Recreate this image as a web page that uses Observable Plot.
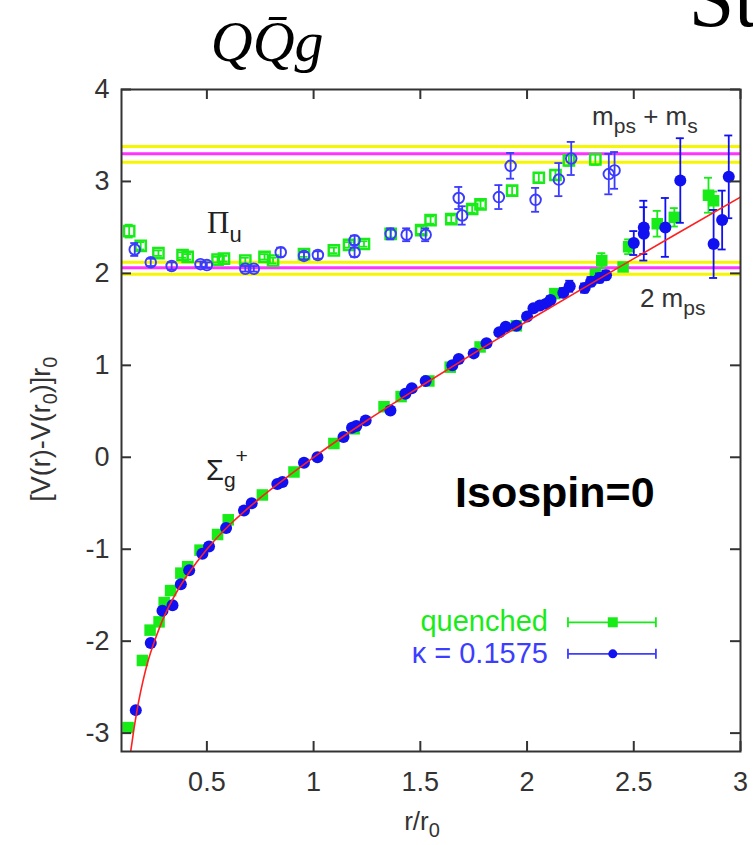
<!DOCTYPE html>
<html><head><meta charset="utf-8">
<script src="https://cdn.jsdelivr.net/npm/d3@7"></script>
<script src="https://cdn.jsdelivr.net/npm/@observablehq/plot@0.6"></script>
<style>
body{margin:0;background:#fff;}
#chart{width:753px;height:845px;overflow:hidden;}
</style></head><body><div id="chart"></div>
<script>
// ---------- axis ticks ----------
const xTicks = [0.5, 1, 1.5, 2, 2.5, 3];
const yTicks = [-3, -2, -1, 0, 1, 2, 3, 4];

// ---------- threshold lines (value, kind) ----------
const thresholdY    = [3.38, 3.30, 3.21, 2.12, 2.06, 1.99];
const thresholdKind = ["band", "mass", "band", "band", "mass", "band"];

// ---------- Sigma_g+ , quenched (green filled squares) ----------
const sigQ_r = [0.131,0.198,0.234,0.276,0.300,0.330,0.378,0.410,0.468,0.550,0.600,0.760,0.908,1.095,1.190,1.330,1.410,1.540,1.640,1.780,1.950,2.130,2.320,2.350,2.450,2.476,2.610,2.690,2.850,2.874];
const sigQ_v = [-2.94,-2.21,-1.88,-1.79,-1.58,-1.45,-1.26,-1.19,-1.01,-0.84,-0.68,-0.41,-0.16,0.15,0.31,0.55,0.66,0.83,0.98,1.20,1.43,1.78,1.99,2.14,2.07,2.29,2.54,2.61,2.85,2.79];
const sigQ_e = [0.02,0.02,0.02,0.02,0.02,0.02,0.02,0.02,0.02,0.02,0.02,0.02,0.02,0.02,0.02,0.02,0.02,0.02,0.02,0.02,0.03,0.03,0.05,0.08,0.04,0.08,0.14,0.10,0.19,0.10];

// ---------- Sigma_g+ , kappa = 0.1575 (blue filled circles) ----------
const sigK_r = [0.167,0.237,0.292,0.339,0.378,0.417,0.479,0.510,0.590,0.674,0.710,0.830,0.854,0.955,1.018,1.140,1.180,1.200,1.244,1.360,1.430,1.460,1.525,1.650,1.680,1.750,1.810,1.870,1.900,1.950,2.000,2.030,2.060,2.090,2.110,2.170,2.200,2.270,2.300,2.340,2.370,2.500,2.547,2.547,2.648,2.718,2.874,2.914,2.945];
const sigK_v = [-2.75,-2.02,-1.67,-1.61,-1.38,-1.23,-1.05,-0.97,-0.77,-0.58,-0.50,-0.29,-0.27,-0.06,0.00,0.22,0.32,0.34,0.40,0.51,0.69,0.75,0.83,1.00,1.07,1.13,1.24,1.36,1.42,1.43,1.53,1.62,1.65,1.67,1.71,1.79,1.86,1.84,1.91,1.95,1.98,2.33,2.50,2.43,2.50,3.01,2.32,2.58,3.05];
const sigK_e = [0.02,0.02,0.02,0.02,0.02,0.02,0.02,0.02,0.02,0.02,0.02,0.02,0.02,0.02,0.02,0.02,0.02,0.02,0.02,0.02,0.02,0.02,0.02,0.02,0.02,0.02,0.02,0.03,0.03,0.03,0.03,0.03,0.03,0.04,0.04,0.05,0.06,0.05,0.05,0.05,0.05,0.13,0.29,0.29,0.32,0.46,0.37,0.32,0.45];

// ---------- Pi_u , quenched (green open squares) ----------
const piQ_r = [0.136,0.190,0.273,0.386,0.410,0.550,0.580,0.680,0.770,0.810,0.955,1.095,1.166,1.236,1.361,1.504,1.548,1.645,1.743,1.782,1.930,2.055,2.133,2.196,2.320];
const piQ_v = [2.46,2.30,2.22,2.20,2.18,2.15,2.16,2.14,2.18,2.14,2.21,2.25,2.31,2.32,2.43,2.47,2.58,2.59,2.70,2.75,2.90,3.04,3.07,3.23,3.24];
const piQ_e = [0.07,0.04,0.03,0.03,0.03,0.03,0.03,0.03,0.03,0.03,0.03,0.03,0.03,0.03,0.04,0.04,0.04,0.04,0.04,0.04,0.05,0.05,0.05,0.06,0.06];

// ---------- Pi_u , kappa = 0.1575 (blue open circles) ----------
const piK_r = [0.162,0.237,0.335,0.470,0.500,0.680,0.720,0.846,0.955,1.020,1.192,1.192,1.361,1.436,1.525,1.680,1.696,1.868,1.923,2.040,2.149,2.207,2.383,2.410];
const piK_v = [2.26,2.12,2.08,2.10,2.09,2.05,2.05,2.23,2.19,2.20,2.23,2.36,2.43,2.42,2.42,2.82,2.63,2.83,3.17,2.80,3.02,3.25,3.08,3.12];
const piK_e = [0.07,0.04,0.04,0.03,0.03,0.03,0.03,0.05,0.04,0.04,0.05,0.05,0.06,0.07,0.07,0.12,0.10,0.13,0.14,0.13,0.18,0.18,0.22,0.20];

// ---------- fitted curve (red) ----------
const fit_r = [0.143,0.150,0.160,0.170,0.180,0.200,0.225,0.250,0.300,0.350,0.400,0.500,0.600,0.700,0.800,1.000,1.250,1.500,1.750,2.000,2.500,3.000];
const fit_v = [-3.20,-3.09,-2.93,-2.79,-2.66,-2.44,-2.21,-2.03,-1.73,-1.50,-1.31,-1.00,-0.75,-0.54,-0.35,0.00,0.40,0.77,1.13,1.48,2.16,2.83];

// ---------- build tables ----------
const rec = (R, V, E) => R.map((r, i) => ({r, v: V[i], e: E ? E[i] : 0}));
const sigQ = rec(sigQ_r, sigQ_v, sigQ_e);
const sigK = rec(sigK_r, sigK_v, sigK_e);
const piQ = rec(piQ_r, piQ_v, piQ_e);
const piK = rec(piK_r, piK_v, piK_e);
const fit = rec(fit_r, fit_v);
const thresholds = thresholdY.map((y, i) => ({y, kind: thresholdKind[i]}));

const GREEN = "#18ec18", BLUE = "#1010f0", BLUE_OPEN = "#3b3bff";
const AX = "#333";
const sans = "'Liberation Sans', Arial, Helvetica, sans-serif";
const serif = "'Liberation Serif', 'Times New Roman', serif";

function errorBars(data, color, w) {
  return [
    Plot.ruleX(data, {x: "r", y1: d => d.v - d.e, y2: d => d.v + d.e, stroke: color, strokeWidth: w}),
    Plot.ruleY(data, {x1: "r", x2: "r", y: d => d.v + d.e, insetLeft: -4, insetRight: -4, stroke: color, strokeWidth: w}),
    Plot.ruleY(data, {x1: "r", x2: "r", y: d => d.v - d.e, insetLeft: -4, insetRight: -4, stroke: color, strokeWidth: w})
  ];
}

const FH = 845 - 89 - 94, FW = 753 - 121 - 13, TL = 10;

const plot = Plot.plot({
  width: 753, height: 845,
  marginLeft: 121, marginRight: 13, marginTop: 89, marginBottom: 94,
  x: {domain: [0.1, 3]},
  y: {domain: [-3.2, 4]},
  style: {fontFamily: sans, fontSize: "27px", color: AX, background: "white", overflow: "visible"},
  marks: [
    Plot.ruleY(thresholds, {y: "y", stroke: d => d.kind === "mass" ? "#ff33ff" : "#f6f600", strokeWidth: 3}),
    ...errorBars(piQ, GREEN, 1.8),
    Plot.dot(piQ, {x: "r", y: "v", symbol: "square", r: 5.8, stroke: GREEN, strokeWidth: 2.4, fill: "none"}),
    ...errorBars(piK, BLUE_OPEN, 1.8),
    Plot.dot(piK, {x: "r", y: "v", symbol: "circle", r: 5.3, stroke: BLUE_OPEN, strokeWidth: 1.9, fill: "none"}),
    ...errorBars(sigQ, GREEN, 1.8),
    Plot.dot(sigQ, {x: "r", y: "v", symbol: "square", r: 6.5, fill: GREEN}),
    ...errorBars(sigK, BLUE, 1.8),
    Plot.dot(sigK, {x: "r", y: "v", symbol: "circle", r: 6, fill: BLUE}),
    Plot.line(fit, {x: "r", y: "v", stroke: "#ff2020", strokeWidth: 1.6, curve: "catmull-rom", clip: true}),
    Plot.frame({stroke: AX, strokeWidth: 2}),
    Plot.ruleX(xTicks, {x: d => d, insetTop: FH - TL, stroke: AX, strokeWidth: 2}),
    Plot.ruleX(xTicks, {x: d => d, insetBottom: FH - TL, stroke: AX, strokeWidth: 2}),
    Plot.ruleY(yTicks, {y: d => d, insetRight: FW - TL, stroke: AX, strokeWidth: 2}),
    Plot.ruleY(yTicks, {y: d => d, insetLeft: FW - TL, stroke: AX, strokeWidth: 2}),
    Plot.axisX({ticks: xTicks, tickSize: 0, tickPadding: 20, label: null, tickFormat: d => String(d)}),
    Plot.axisY({ticks: yTicks, tickSize: 0, tickPadding: 12, label: null, tickFormat: d => String(d)})
  ]
});
document.getElementById("chart").appendChild(plot);

// ---------- annotations (placed through the plot's scales) ----------
const svg = d3.select(plot);
const X = v => plot.scale("x").apply(v);
const Y = v => plot.scale("y").apply(v);

function rich(x, y, parts, o = {}) {
  const t = svg.append("text").attr("x", x).attr("y", y)
    .attr("font-family", o.family || sans).attr("font-size", o.size || 27)
    .attr("fill", o.fill || AX).attr("text-anchor", o.anchor || "start");
  if (o.weight) t.attr("font-weight", o.weight);
  if (o.italic) t.attr("font-style", "italic");
  if (o.rotate) t.attr("transform", `rotate(${o.rotate},${x},${y})`);
  let shift = 0;
  for (const p of parts) {
    const s = t.append("tspan").text(p.t);
    const want = p.shift || 0;
    if (want !== shift) { s.attr("dy", want - shift); shift = want; }
    if (p.size) s.attr("font-size", p.size);
    if (p.family) s.attr("font-family", p.family);
  }
  return t;
}

// title and slide fragment
rich(X(0.785), Y(4.30), [{t: "Q"}, {t: "Q\u0304"}, {t: "g"}], {family: serif, size: 58, italic: true, fill: "#000", anchor: "middle"});
rich(X(2.76), Y(4.69), [{t: "St"}], {family: serif, size: 82, fill: "#000"});

// state labels
rich(X(0.503), Y(2.434), [{t: "\u03A0", family: serif, size: 31}, {t: "u", shift: 9, size: 22}], {fill: "#222"});
rich(X(0.498), Y(-0.253), [{t: "\u03A3", size: 29}, {t: "g", shift: 7, size: 21}, {t: "+", shift: -17, size: 21}], {fill: "#222"});
rich(X(2.307), Y(3.608), [{t: "m"}, {t: "ps", shift: 8, size: 21}, {t: " + m"}, {t: "s", shift: 8, size: 21}], {size: 26, fill: "#333"});
rich(X(2.531), Y(1.629), [{t: "2 m"}, {t: "ps", shift: 8, size: 21}], {size: 26, fill: "#333"});
rich(X(1.665), Y(-0.546), [{t: "Isospin=0"}], {size: 43, weight: "bold", fill: "#000"});

// axis titles
rich(X(1.51), Y(-3.2) + 79, [{t: "r/r"}, {t: "0", shift: 7, size: 20}], {size: 26, anchor: "middle", fill: AX});
rich(50, Y(0.3), [{t: "[V(r)-V(r"}, {t: "0", shift: 7, size: 20}, {t: ")]r", shift: 0}, {t: "0", shift: 7, size: 20}], {size: 27, anchor: "middle", rotate: -90, fill: AX});

// legend
const legend = [
  {label: "quenched", color: GREEN, sym: "square", ly: -1.80, ty: -1.895},
  {label: "\u03BA = 0.1575", color: "#3d3dff", sym: "circle", ly: -2.143, ty: -2.243}
];
const lx0 = X(2.194), lx1 = X(2.606), lm = X(2.404), tx = X(2.100);
legend.forEach(L => {
  const yy = Y(L.ly);
  rich(tx, Y(L.ty), [{t: L.label}], {size: 29, anchor: "end", fill: L.color});
  const g = svg.append("g").attr("stroke", L.color).attr("stroke-width", 1.8);
  g.append("line").attr("x1", lx0).attr("x2", lx1).attr("y1", yy).attr("y2", yy);
  g.append("line").attr("x1", lx0).attr("x2", lx0).attr("y1", yy - 5).attr("y2", yy + 5);
  g.append("line").attr("x1", lx1).attr("x2", lx1).attr("y1", yy - 5).attr("y2", yy + 5);
  if (L.sym === "square") svg.append("rect").attr("x", lm - 5).attr("y", yy - 5).attr("width", 10).attr("height", 10).attr("fill", GREEN);
  else svg.append("circle").attr("cx", lm).attr("cy", yy).attr("r", 4.5).attr("fill", BLUE);
});
</script>
</body></html>
